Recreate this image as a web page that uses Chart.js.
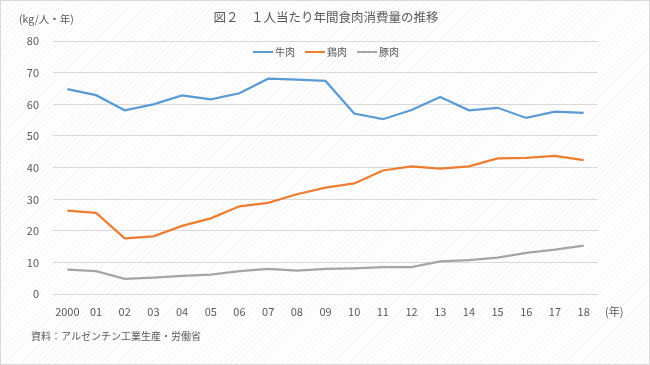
<!DOCTYPE html>
<html>
<head>
<meta charset="utf-8">
<script src="https://cdn.jsdelivr.net/npm/chart.js@4.4.1/dist/chart.umd.min.js"></script>
<style>
  html, body { margin: 0; padding: 0; }
  body { width: 650px; height: 365px; overflow: hidden; }
  #wrap {
    position: relative; width: 648px; height: 363px;
    border: 1px solid #d9d9d9;
    background-color: #ffffff;
    background-image: repeating-linear-gradient(-45deg, rgba(0,0,0,0.035) 0px, rgba(0,0,0,0.035) 1px, transparent 1px, transparent 4px);
    font-family: "Noto Sans CJK JP", "Noto Sans", sans-serif;
    color: #595959;
  }
  #c { position: absolute; left: -1px; top: -1px; }
  .txt { position: absolute; white-space: nowrap; line-height: 1; }
  #title { left: 0; width: 650px; text-align: center; top: 10px; font-size: 12.5px; }
  #unit { left: 18px; top: 13px; font-size: 10.5px; }
  #nen { left: 604px; top: 305px; font-size: 11px; }
  #src { left: 30px; top: 330px; font-size: 10px; }
  #legend { position: absolute; left: 0; width: 650px; top: 45px; display: flex; justify-content: center; font-size: 10px; line-height: 12px; }
  .li { display: flex; align-items: center; margin: 0 5px; }
  .sw { width: 20px; height: 2px; margin-right: 2px; }
</style>
</head>
<body>
<div id="wrap">
  <canvas id="c" width="650" height="365"></canvas>
  <div class="txt" id="title">図２　１人当たり年間食肉消費量の推移</div>
  <div class="txt" id="unit">(kg/人・年)</div>
  <div id="legend"></div>
  <div class="txt" id="nen">(年)</div>
  <div class="txt" id="src">資料：アルゼンチン工業生産・労働省</div>
</div>
<script>
const years = ["2000","01","02","03","04","05","06","07","08","09","10","11","12","13","14","15","16","17","18"];
const seriesNames = ["牛肉", "鶏肉", "豚肉"];
const beef    = [64.8, 62.9, 58.1, 60.0, 62.8, 61.6, 63.5, 68.1, 67.8, 67.4, 57.1, 55.3, 58.2, 62.3, 58.1, 58.9, 55.7, 57.7, 57.3];
const chicken = [26.4, 25.7, 17.7, 18.3, 21.6, 24.0, 27.8, 28.9, 31.6, 33.7, 35.0, 39.1, 40.4, 39.7, 40.4, 42.9, 43.1, 43.7, 42.4];
const pork    = [7.8, 7.3, 4.9, 5.3, 5.8, 6.2, 7.3, 8.0, 7.5, 8.0, 8.2, 8.6, 8.6, 10.4, 10.8, 11.6, 13.1, 14.1, 15.4];
const yTicks  = [0, 10, 20, 30, 40, 50, 60, 70, 80];
const colors  = ["#5B9BD5", "#ED7D31", "#A5A5A5"];

const FONT = '"Noto Sans CJK JP", "Noto Sans", sans-serif';
const values = [beef, chicken, pork];

const chart = new Chart(document.getElementById('c'), {
  type: 'line',
  data: {
    labels: years,
    datasets: values.map((v, i) => ({
      label: seriesNames[i],
      data: v,
      borderColor: colors[i],
      backgroundColor: colors[i],
      borderWidth: 2.25,
      pointRadius: 0,
      tension: 0
    }))
  },
  options: {
    responsive: false,
    animation: false,
    layout: { padding: { top: 41, right: 52, left: 0, bottom: 0 } },
    plugins: {
      title: { display: false },
      tooltip: { enabled: false },
      legend: { display: false }
    },
    scales: {
      x: {
        type: 'category',
        offset: true,
        grid: { display: false, drawTicks: false },
        border: { display: false },
        ticks: { color: '#595959', font: { family: FONT, size: 11 }, padding: 11, maxRotation: 0, autoSkip: false },
        afterFit: s => { s.height = 365 - 294.3; }
      },
      y: {
        min: 0, max: 80,
        afterBuildTicks: s => { s.ticks = yTicks.map(v => ({ value: v })); },
        grid: { color: '#d9d9d9', lineWidth: 1, drawTicks: false },
        border: { display: false },
        ticks: { color: '#595959', font: { family: FONT, size: 11 }, padding: 14 },
        afterFit: s => { s.width = 53; }
      }
    }
  }
});

// HTML legend built from the chart's datasets
const lg = document.getElementById('legend');
chart.data.datasets.forEach(ds => {
  const item = document.createElement('div');
  item.className = 'li';
  const sw = document.createElement('span');
  sw.className = 'sw';
  sw.style.background = ds.borderColor;
  const t = document.createElement('span');
  t.textContent = ds.label;
  item.appendChild(sw);
  item.appendChild(t);
  lg.appendChild(item);
});
</script>
</body>
</html>
